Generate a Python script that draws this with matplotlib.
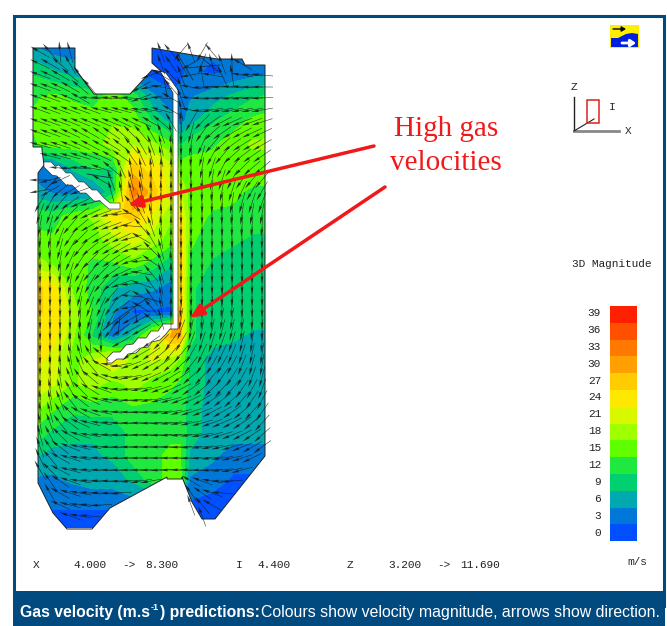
import numpy as np
import matplotlib
matplotlib.use('Agg')
import matplotlib.pyplot as plt
from matplotlib.colors import ListedColormap, BoundaryNorm
from matplotlib.patches import Polygon, Rectangle

N = None

# colour field: magnitude in m/s, sampled by eye (x and z in picture pixels)
field_x = [33, 53, 73, 93, 113, 133, 153, 171, 180, 190, 213, 233, 253, 273]
field_y = [48, 72, 96, 120, 144, 168, 192, 216, 240, 264, 288, 312, 336, 360, 384, 408, 432, 456, 480, 504, 528]
field = [
    [5, 3, 3, 3, 3, 3, 1, 1, 2, 2, 2, 3, 3, 3],
    [10, 8, 6, 6, 4, 2, 0, 0, 1, 2, 1, 2, 3, 4],
    [13, 14, 13, 12, 15, 12, 5, 2, 2, 4, 6, 8, 10, 11],
    [14, 15, 15, 15, 16, 15, 10, 6, 3, 6, 10, 12, 14, 15],
    [13, 15, 15, 15, 18, 19, 17, 14, 10, 12, 13, 15, 17, 17],
    [3, 3, 8, 11, 10, 27, 24, 21, 15, 15, 15, 16, 15, 15],
    [6, 4, 3, 4, 9, 33, 27, 21, 20, 15, 15, 14, 13, 13],
    [12, 12, 15, 17, 24, 27, 22, 17, 24, 15, 13, 13, 12, 12],
    [15, 14, 15, 15, 18, 21, 18, 15, 27, 14, 12, 11, 10, 10],
    [18, 16, 15, 13, 13, 15, 12, 8, 27, 13, 10, 9, 9, 9],
    [27, 24, 16, 12, 8, 6, 5, 3, 27, 11, 9, 9, 9, 9],
    [26, 25, 18, 13, 5, 1, 1, 1, 29, 11, 9, 9, 9, 9],
    [25, 24, 17, 10, 3, 9, 20, 29, 29, 11, 9, 8, 7, 7],
    [24, 21, 15, 19, 24, 18, 20, 18, 16, 10, 6, 6, 6, 6],
    [22, 20, 16, 18, 15, 18, 15, 14, 13, 10, 6, 6, 6, 6],
    [18, 14, 11, 12, 12, 13, 13, 12, 12, 9, 6, 6, 5, 5],
    [13, 10, 9, 8, 8, 12, 12, 13, 13, 9, 6, 6, 6, 6],
    [8, 6, 6, 7, 8, 12, 13, 14, 14, 7, 5, 3, 3, 3],
    [4, 4, 5, 6, 6, 8, 12, 15, 15, 4, 3, 1, 1, 1],
    [2, 2, 2, 2, 2, 3, 3, 3, 3, 1, 0, 0, 0, 0],
    [0, 0, 0, 0, 0, 1, 1, 1, 1, 0, 0, 0, 0, 0],
]

# arrow directions in degrees, by eye
arrow_x = [40, 50, 60, 70, 80, 90, 101, 111, 121, 131, 141, 151, 161, 171, 181, 191, 202, 212, 222, 232, 242, 252, 262]
arrow_y = [52, 64, 75, 87, 98, 110, 122, 133, 145, 156, 168, 180, 191, 203, 214, 226, 238, 249, 261, 273, 284, 296,
           307, 319, 330, 342, 354, 365, 377, 389, 400, 412, 423, 435, 447, 458, 470, 481, 493, 505, 516]
angles = [
    [-30, -50, -85, -75, N, N, N, N, N, N, N, N, -70, -50, 50, -70, 60, -50, N, N, N, N, N],
    [-25, -30, -40, -60, N, N, N, N, N, N, N, N, -70, -55, -60, 30, 70, -75, -70, -88, -30, N, N],
    [-20, -25, -30, -40, -55, N, N, N, N, N, N, 20, -30, -45, -70, 10, -80, -10, -65, -80, -10, -5, -5],
    [-20, -20, -25, -30, -40, -50, N, N, N, N, 30, 10, -10, -50, -70, -10, 5, 5, 0, -5, -5, 0, 0],
    [-20, -20, -20, -22, -30, -5, -5, -5, -10, -5, 20, 10, -5, -30, -70, -5, 0, 5, 5, 5, 5, 3, 3],
    [-20, -20, -20, -20, -20, -20, -15, -15, -15, -15, -10, -10, -15, -30, -80, -10, 5, 10, 10, 10, 10, 10, 10],
    [-20, -20, -20, -22, -22, -22, -22, -22, -25, -25, -25, -30, -40, -60, -85, 60, 45, 35, 28, 24, 20, 20, 18],
    [-20, -20, -22, -25, -28, -30, -35, -35, -40, -45, -50, -60, -70, -80, 90, 75, 55, 42, 35, 30, 28, 25, 25],
    [-15, -15, -18, -22, -25, -28, -30, -32, -38, -50, -60, -70, -78, -85, 90, 80, 65, 50, 42, 36, 32, 30, 30],
    [N, -15, -15, -15, -18, -20, -25, -30, -35, -55, -65, -75, -80, -88, 90, 85, 75, 62, 50, 42, 38, 35, 35],
    [N, N, -5, 0, -5, -10, -20, -40, -65, -80, -80, -85, -90, -90, 90, 88, 80, 72, 62, 52, 45, 40, 40],
    [0, 15, 25, N, N, N, -30, -70, -85, -75, -80, -85, -90, -90, 90, 90, 85, 80, 72, 62, 55, 50, 50],
    [10, 30, 40, 30, 20, N, N, -75, -80, -75, -80, -85, -88, -90, 90, 90, 88, 85, 80, 72, 65, 60, 60],
    [60, 60, 50, 35, 25, 15, N, N, N, -50, -70, -85, -88, -90, 90, 90, 90, 88, 85, 80, 75, 72, 70],
    [70, 70, 55, 45, 35, 25, 20, 15, 5, -30, -60, -80, -88, -90, 90, 90, 90, 90, 88, 85, 82, 80, 80],
    [80, 75, 60, 50, 40, 30, 25, 20, 20, -5, -50, -70, -85, -90, 90, 90, 90, 90, 90, 88, 86, 85, 85],
    [85, 80, 70, 55, 45, 35, 30, 30, 25, 15, -30, -60, -80, -90, 90, 90, 90, 90, 90, 90, 90, 88, 88],
    [88, 85, 75, 60, 50, 40, 35, 30, 30, 20, 0, -45, -75, -88, 90, 90, 90, 90, 90, 90, 90, 90, 90],
    [90, 88, 80, 65, 55, 45, 40, 35, 30, 20, 5, -35, -70, -85, 90, 90, 90, 90, 90, 90, 90, 90, 90],
    [90, 90, 85, 72, 60, 50, 45, 35, 25, 15, -10, -50, -75, -88, 90, 90, 90, 90, 90, 90, 90, 90, 90],
    [90, 90, 88, 80, 68, 60, 50, 40, 20, 5, -20, -55, -80, -90, 90, 90, 90, 90, 90, 90, 90, 90, 90],
    [90, 90, 90, 85, 75, 65, 60, 50, 30, -5, -30, -55, -80, -90, 90, 90, 90, 90, 88, 88, 90, 90, 90],
    [90, 90, 90, 88, 80, 70, 65, 55, 35, 10, -30, -50, -80, -90, 85, 88, 88, 88, 85, 85, 88, 90, 90],
    [90, 90, 90, 90, 85, 75, 70, 60, 40, 30, 30, -40, -75, -90, 80, 85, 85, 85, 82, 82, 85, 88, 90],
    [90, 90, 90, 90, -88, 80, 75, 50, 35, 30, 30, N, N, N, 70, 78, 80, 78, 75, 78, 82, 85, 88],
    [90, 90, 90, -85, -80, -85, 90, N, 30, N, N, 35, 45, 55, 60, 70, 72, 72, 70, 72, 78, 82, 85],
    [90, 90, -88, -80, -72, -60, -40, N, N, 35, 30, 35, 40, 50, 50, 60, 65, 65, 65, 68, 72, 78, 82],
    [90, -88, -85, -75, -65, -50, -30, -10, 10, 20, 25, 30, 35, 42, 45, 52, 58, 60, 60, 62, 68, 75, 80],
    [90, -85, -80, -68, -55, -40, -25, -15, 5, 10, 18, 24, 28, 32, 35, 42, 48, 52, 55, 58, 62, 70, 75],
    [-88, -82, -75, -60, -45, -32, -20, -10, 0, 5, 10, 15, 20, 25, 28, 35, 40, 45, 48, 50, 55, 62, 70],
    [-85, -80, -68, -52, -38, -25, -15, -8, -2, 2, 5, 8, 12, 15, 20, 26, 30, 35, 38, 42, 48, 55, 62],
    [-85, -75, -60, -45, -30, -20, -12, -6, -2, 0, 2, 4, 6, 10, 14, 18, 22, 28, 30, 35, 40, 48, 55],
    [-80, -70, -52, -38, -25, -15, -10, -5, -2, 0, 0, 2, 4, 6, 8, 12, 16, 20, 24, 28, 34, 40, 48],
    [-75, -62, -45, -30, -18, -10, -6, -3, -1, 0, 0, 0, 2, 3, 4, 7, 10, 14, 18, 22, 28, 34, 42],
    [-70, -55, -38, -22, -14, -8, -4, -2, 0, 0, 0, 0, 0, 0, 2, 4, 6, 10, 12, 16, 22, 30, 36],
    [-65, -50, -30, -18, -10, -6, -3, -2, 0, 0, 0, 0, 0, 0, 0, 2, 3, 6, 8, 12, 18, 25, N],
    [-60, -45, -28, -15, -8, -4, -2, -1, 0, 0, 0, 0, 2, 0, -2, -2, 0, 3, 6, 10, 15, N, N],
    [N, -55, -35, -20, -10, -5, -3, -1, 2, 5, 10, 10, N, N, N, -30, -20, -10, 0, 5, N, N, N],
    [N, -60, -30, -18, -10, -6, -2, 2, 5, N, N, N, N, N, N, -55, -35, -20, -5, N, N, N, N],
    [N, N, -25, -15, -8, -4, 3, N, N, N, N, N, N, N, N, -70, -50, -30, N, N, N, N, N],
    [N, N, N, -20, -10, -5, N, N, N, N, N, N, N, N, N, N, -70, N, N, N, N, N, N],
]

legend_values = [39, 36, 33, 30, 27, 24, 21, 18, 15, 12, 9, 6, 3, 0]
legend_colors = ['#ff2000', '#ff5000', '#ff7800', '#ffa000', '#ffcc00', '#ffe800', '#d8f800',
                 '#a0ff00', '#60ff00', '#20e840', '#00d070', '#00a8b0', '#0078d8', '#0050ff']

# outlines of the furnace and baffles, in picture pixels
outline = [(33, 48), (75, 48), (75, 69), (94, 94), (130, 94), (152, 70), (158, 71), (162, 72), (152, 63), (152, 48),
           (175, 52), (217, 59), (242, 59), (245, 65), (265, 65), (265, 456), (215, 519), (202, 519), (192, 502),
           (182, 477), (182, 479), (167, 479), (167, 477), (110, 508), (92, 529), (67, 529), (53, 513), (38, 483),
           (38, 173), (44, 165), (42, 150), (42, 147), (33, 147)]
baffle_top = [(44, 162), (51, 162), (55, 166), (59, 165), (66, 173), (71, 173), (79, 182), (84, 182), (92, 190),
              (97, 190), (104, 198), (110, 203), (120, 203), (120, 209), (109, 209), (100, 201), (94, 201),
              (86, 193), (80, 193), (72, 185), (66, 185), (57, 176), (52, 175), (44, 167)]
baffle_wall = [(160, 71), (166, 73), (178, 90), (178, 329), (170, 329), (166, 334), (160, 340), (152, 342),
               (148, 347), (141, 348), (136, 353), (128, 354), (124, 359), (117, 359), (112, 363), (107, 363),
               (107, 358), (113, 352), (120, 352), (126, 345), (133, 344), (138, 338), (146, 338), (151, 331),
               (158, 331), (163, 324), (173, 324), (173, 93)]
# mesh edges that show through in the slow zones
mesh_lines = [[(103, 330), (120, 317), (147, 298), (160, 302)], [(135, 308), (137, 322)], [(120, 317), (118, 335)],
              [(177, 53), (193, 80)], [(187, 68), (220, 65)], [(202, 58), (220, 73)], [(163, 73), (167, 97)],
              [(45, 190), (60, 175)], [(87, 174), (112, 178)]]

fig = plt.figure(figsize=(6.68, 6.26), dpi=100)
ax = fig.add_axes([0, 0, 1, 1])
ax.set_xlim(0, 668)
ax.set_ylim(626, 0)
ax.axis('off')

# frame and caption band
navy = '#004a80'
ax.add_patch(Rectangle((13.5, 15.5), 650, 590, fill=False, ec=navy, lw=2.2))
ax.add_patch(Rectangle((13, 591), 652, 35, fc=navy, ec='none'))

# velocity field
cmap = ListedColormap(legend_colors[::-1])
norm = BoundaryNorm(np.arange(-1.5, 40.6, 3), cmap.N)
cs = ax.contourf(field_x, field_y, np.array(field, dtype=float), levels=np.arange(-1.5, 40.6, 3),
                 cmap=cmap, norm=norm, zorder=1)
domain = Polygon(outline, closed=True, fc='none', ec='#222222', lw=0.7, zorder=2)
ax.add_patch(domain)
cs.set_clip_path(domain)
for m in mesh_lines:
    ax.plot(*zip(*m), color='#1a2a50', lw=0.6, zorder=2)
ax.add_patch(Polygon(baffle_top, closed=True, fc='white', ec='#222222', lw=0.4, zorder=3))
ax.add_patch(Polygon(baffle_wall, closed=True, fc='white', ec='#222222', lw=0.5, zorder=3))

theta = np.radians(np.array(angles, dtype=float))
X, Y = np.meshgrid(arrow_x, arrow_y)
ax.quiver(X, Y, -22 * np.cos(theta), -22 * np.sin(theta), angles='uv', scale_units='xy', scale=1, pivot='mid',
          units='x', width=0.55, headwidth=5, headlength=14, headaxislength=13, color='#151515', alpha=0.85, zorder=4)

# annotation
red = '#f01818'
ax.text(446, 146, 'High gas\nvelocities', color=red, family='Liberation Serif', fontsize=21, ha='center',
        va='center', linespacing=1.4, zorder=6)
head = '-|>,head_length=0.8,head_width=0.35'
ax.annotate('', xy=(128, 205), xytext=(374, 146), zorder=6,
            arrowprops=dict(arrowstyle=head, color=red, lw=2.5, shrinkA=0, shrinkB=0))
ax.annotate('', xy=(190, 318), xytext=(385, 187), zorder=6,
            arrowprops=dict(arrowstyle=head, color=red, lw=2.5, shrinkA=0, shrinkB=0))

# colour legend
mono = dict(family='Liberation Mono', fontsize=8, color='#222222', va='center')
ax.text(572, 264, '3D Magnitude', **mono)
step = 16.8
for i, (v, c) in enumerate(zip(legend_values, legend_colors)):
    ax.bar(623.5, step, width=27, bottom=306 + i * step, color=c, align='center', zorder=2)
    ax.text(601, 313 + i * 16.9, str(v), ha='right', **mono)
ax.text(627, 562, 'm/s', **mono)

# slice limits along the bottom
for x, s in zip([33, 73, 122, 145, 236, 257, 347, 388, 437, 460],
                ['X', '4.000', '->', '8.300', 'I', '4.400', 'Z', '3.200', '->', '11.690']):
    ax.text(x, 565, s, **mono)

# orientation glyph
ax.plot([574, 574], [97, 131], color='#222222', lw=1, zorder=2)
ax.plot([574, 619], [131, 131], color='#888888', lw=2, zorder=2)
ax.plot([574, 594], [131, 119], color='#222222', lw=0.8, zorder=2)
ax.add_patch(Rectangle((587, 100), 12, 23, fill=False, ec='#e02020', lw=1.1, zorder=3))
ax.text(574, 87, 'Z', ha='center', **mono)
ax.text(612, 107, 'I', ha='center', **mono)
ax.text(628, 131, 'X', ha='center', **mono)

# view icon
ax.add_patch(Rectangle((610, 25), 29, 23, fc='#ffee00', ec='none', zorder=2))
ax.add_patch(Polygon([(611, 38), (618, 38), (626, 34), (632, 33), (638, 34), (638, 47), (611, 47)],
                     fc='#0020e0', ec='none', zorder=3))
ax.annotate('', xy=(626, 29), xytext=(613, 29), zorder=4,
            arrowprops=dict(arrowstyle='-|>,head_length=0.25,head_width=0.15', color='black', lw=1, shrinkA=0, shrinkB=0))
ax.annotate('', xy=(636, 43), xytext=(622, 43), zorder=4,
            arrowprops=dict(arrowstyle='-|>,head_length=0.3,head_width=0.2', color='white', lw=2, shrinkA=0, shrinkB=0))

# caption, pieces placed one after the other
renderer = fig.canvas.get_renderer()
x = 20
for s, w, size, y in [('Gas velocity (m.s', 'bold', 11.3, 613), ('-1', 'bold', 6.5, 608),
                      (') predictions:', 'bold', 11.3, 613),
                      ('Colours show velocity magnitude, arrows show direction.', 'normal', 11.4, 613)]:
    t = ax.text(x, y, s, color='white', family='Liberation Sans', fontweight=w, fontsize=size,
                va='center', zorder=6)
    x = ax.transData.inverted().transform(t.get_window_extent(renderer))[1, 0] + (1 if w == 'bold' else 0)

fig.savefig('out.png', dpi=100)
